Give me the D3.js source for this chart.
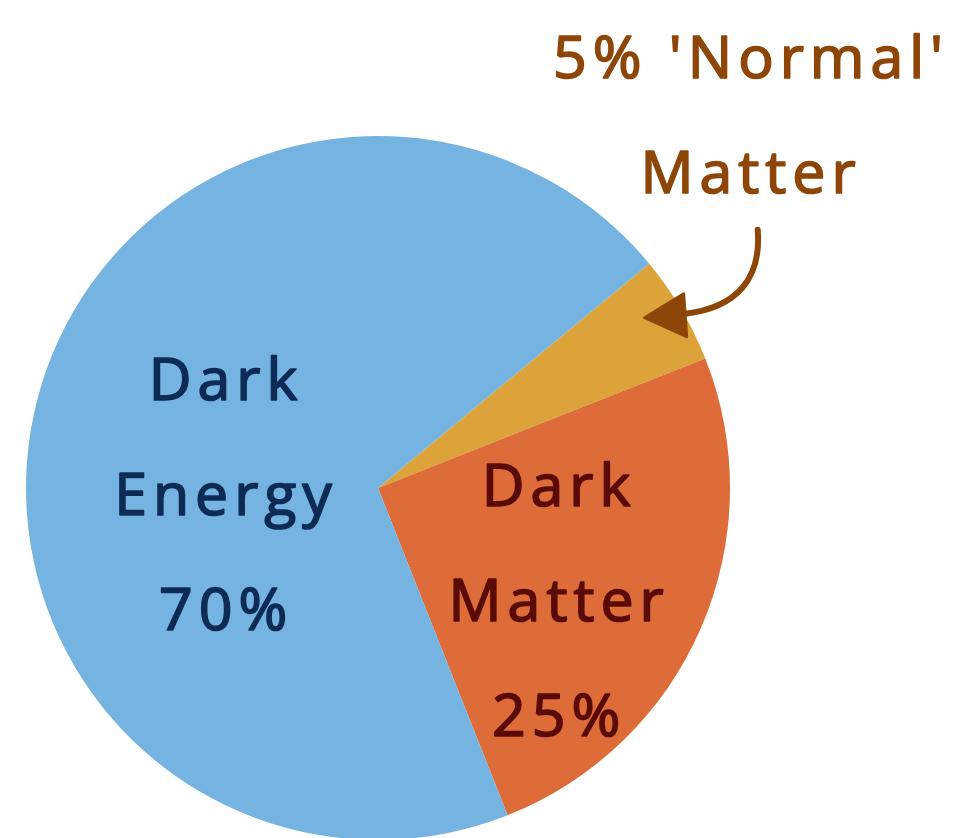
<!DOCTYPE html>
<html>
<head>
<meta charset="utf-8">
<script src="https://cdn.jsdelivr.net/npm/d3@7"></script>
<style>
  html, body { margin: 0; padding: 0; background: #ffffff; }
  svg { display: block; }
  text { font-family: "Open Sans", "DejaVu Sans", sans-serif; }
</style>
</head>
<body>
<svg id="chart" width="957" height="838"></svg>
<script>
// Composition of the universe
const components = ["Normal Matter", "Dark Matter", "Dark Energy"];
const shares = [5, 25, 70];
const sliceColors = ["#DBA33A", "#DD6C39", "#75B4E0"];
const labelLines = [
  ["5% 'Normal'", "Matter"],
  ["Dark", "Matter", "25%"],
  ["Dark", "Energy", "70%"]
];
const labelColors = ["#8E4608", "#5A0B08", "#0E2B56"];

const width = 957, height = 838;
const cx = 378, cy = 488, radius = 352;
const fontSize = 59, lineGap = 115, tracking = 6;

const svg = d3.select("#chart");

const data = components.map((name, i) => ({
  name, value: shares[i], color: sliceColors[i],
  lines: labelLines[i], textColor: labelColors[i]
}));

// The first slice begins just past "two o'clock" and runs clockwise
const startAngle = 50.4 * Math.PI / 180;
const pie = d3.pie()
  .value(d => d.value)
  .sort(null)
  .startAngle(startAngle)
  .endAngle(startAngle + 2 * Math.PI);

const arcs = pie(data);
const arc = d3.arc().innerRadius(0).outerRadius(radius);

const g = svg.append("g").attr("transform", `translate(${cx},${cy})`);

g.selectAll("path.slice")
  .data(arcs)
  .join("path")
  .attr("class", "slice")
  .attr("d", arc)
  .attr("fill", d => d.data.color);

// In-slice labels for the two large slices, placed along each slice's mid-angle
const labelPlacement = {
  "Dark Matter": { r: 205, dx: -10, dy: 30 },
  "Dark Energy": { r: 160, dx: 0, dy: 46 }
};

function drawLines(sel, lines, x, yMid, color) {
  const t = sel.append("text")
    .attr("text-anchor", "middle")
    .attr("fill", color)
    .attr("stroke", color)
    .attr("stroke-width", 1.7)
    .attr("stroke-linejoin", "round")
    .style("font-size", fontSize + "px")
    .style("letter-spacing", tracking + "px");
  const n = lines.length;
  lines.forEach((line, i) => {
    t.append("tspan")
      .attr("x", x + tracking / 2)
      .attr("y", yMid + (i - (n - 1) / 2) * lineGap + fontSize * 0.36)
      .text(line);
  });
  return t;
}

arcs.forEach(a => {
  const p = labelPlacement[a.data.name];
  if (!p) return;
  const mid = (a.startAngle + a.endAngle) / 2;
  const x = Math.sin(mid) * p.r + p.dx;
  const y = -Math.cos(mid) * p.r + p.dy;
  drawLines(g, a.data.lines, x, y, a.data.textColor);
});

// Callout for the thin slice: text above, curved arrow pointing into the slice
const small = arcs[0];
const smallMid = (small.startAngle + small.endAngle) / 2;
const tipR = radius * 0.9;
const tip = [Math.sin(smallMid) * tipR - 6, -Math.cos(smallMid) * tipR - 9];

const ann = svg.append("g").attr("transform", `translate(${cx},${cy})`);
drawLines(ann, small.data.lines, 370, -374, small.data.textColor);

const tail = [tip[0] + 113, tip[1] - 88];
const headBase = [tip[0] + 40, tip[1] - 4];
ann.append("path")
  .attr("d", `M${tail[0]},${tail[1]} C${tail[0] + 4},${tail[1] + 48} ${tail[0] - 20},${tail[1] + 78} ${headBase[0]},${headBase[1]}`)
  .attr("fill", "none")
  .attr("stroke", small.data.textColor)
  .attr("stroke-width", 6)
  .attr("stroke-linecap", "round");

ann.append("path")
  .attr("d", `M${tip[0]},${tip[1]} L${tip[0] + 39},${tip[1] - 24} L${tip[0] + 42},${tip[1] + 19} Z`)
  .attr("fill", small.data.textColor)
  .attr("stroke", small.data.textColor)
  .attr("stroke-width", 3)
  .attr("stroke-linejoin", "round");
</script>
</body>
</html>
